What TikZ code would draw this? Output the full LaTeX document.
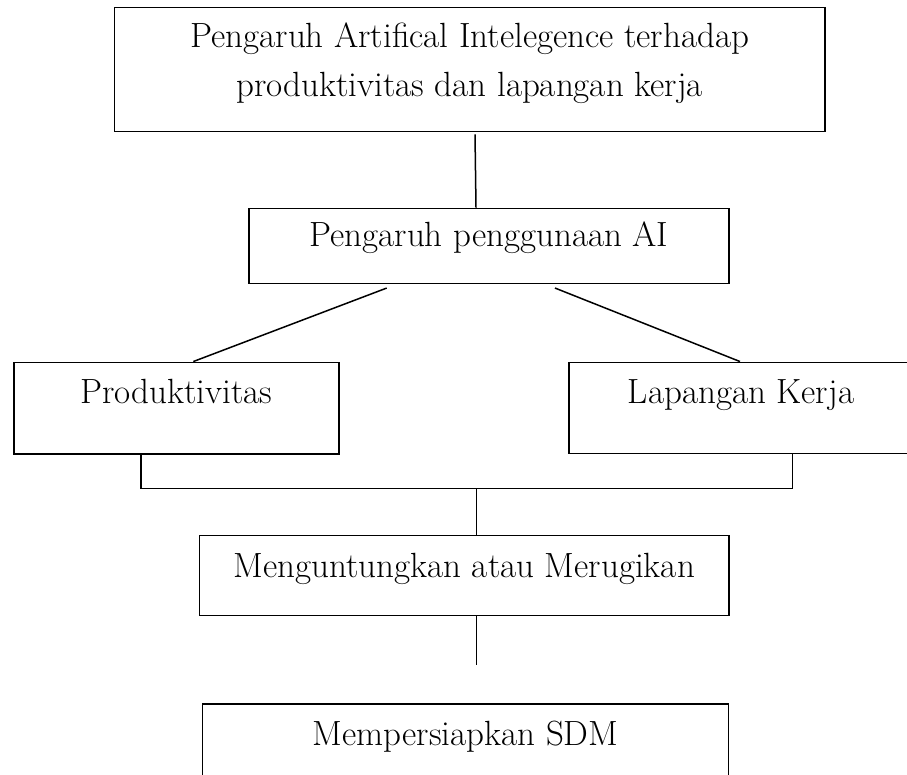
\documentclass[tikz,border=0pt]{standalone}
\begin{document}
\begin{tikzpicture}[x=1pt,y=1pt,line width=1.5pt,
    kotak/.style={draw,rectangle,inner sep=0pt,anchor=base,font=\fontsize{35}{49}\selectfont}]
  \useasboundingbox (0,0) rectangle (907,-775);
  \clip (0,0) rectangle (907,-775);
  \node [kotak,align=center,minimum width=710.7pt,text height=89.7pt,text depth=34.7pt] (judul) at (469.7,-97)
    {Pengaruh Artifical Intelegence terhadap\\produktivitas dan lapangan kerja};
  \node [kotak,minimum width=480.3pt,text height=38.7pt,text depth=36.7pt] (pengaruh) at (488.9,-247) {Pengaruh penggunaan AI};
  \node [kotak,minimum width=325pt,text height=40.7pt,text depth=51pt] (produk) at (176.5,-403) {Produktivitas};
  \node [kotak,minimum width=344pt,text height=40.7pt,text depth=50.7pt] (lapangan) at (741,-403) {Lapangan Kerja};
  \node [kotak,minimum width=529.7pt,text height=41.3pt,text depth=38.7pt] (untung) at (464.2,-577) {Menguntungkan atau Merugikan};
  \node [kotak,minimum width=526pt,text height=41pt,text depth=50pt] (sdm) at (465.7,-745) {Mempersiapkan SDM};
  \coordinate (gabung) at (476.7,-488.7);
  \coordinate (ujung) at (476.7,-665);
  \draw ([xshift=5.3pt,yshift=-2pt]judul.south) -- ([xshift=-12.9pt]pengaruh.north);
  \draw ([xshift=-102.2pt,yshift=-3.6pt]pengaruh.south) -- ([xshift=16.8pt]produk.north);
  \draw ([xshift=66.1pt,yshift=-3.6pt]pengaruh.south) -- ([xshift=-1pt]lapangan.north);
  \draw ([xshift=-35.5pt]produk.south) |- (gabung) -| ([xshift=51.7pt]lapangan.south);
  \draw (gabung) -- (gabung |- untung.north);
  \draw (ujung |- untung.south) -- (ujung);
\end{tikzpicture}
\end{document}
